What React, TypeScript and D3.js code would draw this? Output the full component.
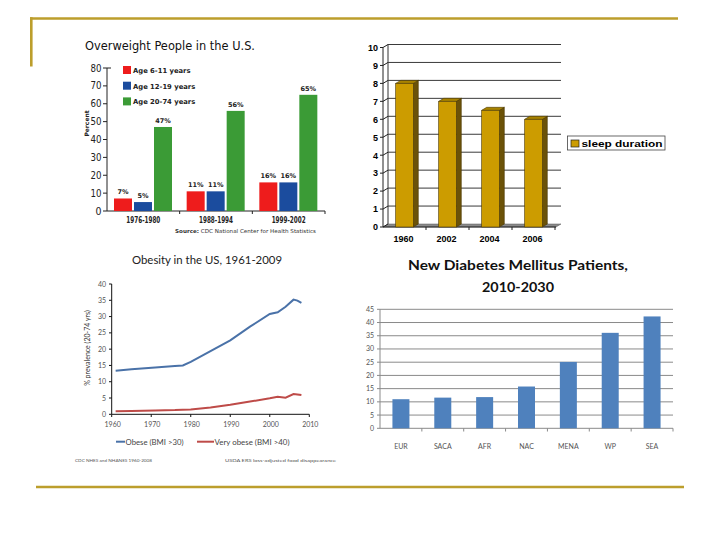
import React from "react";
import * as d3 from "d3";

// ---------- Chart 1: Overweight People in the U.S. ----------
const periods = ["1976-1980", "1988-1994", "1999-2002"];
const ageGroups = ["Age 6-11 years", "Age 12-19 years", "Age 20-74 years"];
const age6to11 = [7, 11, 16];
const age12to19 = [5, 11, 16];
const age20to74 = [47, 56, 65];
const overweightTicks = [0, 10, 20, 30, 40, 50, 60, 70, 80];

// ---------- Chart 2: sleep duration ----------
const sleepYears = ["1960", "2002", "2004", "2006"];
const sleepHours = [8, 7, 6.5, 6];
const sleepTicks = [0, 1, 2, 3, 4, 5, 6, 7, 8, 9, 10];

// ---------- Chart 3: Obesity in the US ----------
const obesityYears = [1961, 1965, 1971, 1976, 1978, 1980, 1985, 1990, 1995, 2000, 2002, 2004, 2006, 2007, 2008];
const obese = [13.4, 13.8, 14.4, 14.8, 15.0, 16.1, 19.4, 22.7, 26.9, 30.8, 31.3, 33.0, 35.2, 34.9, 34.2];
const veryObese = [0.9, 1.0, 1.2, 1.3, 1.4, 1.5, 2.1, 2.9, 3.9, 4.9, 5.4, 5.1, 6.2, 6.1, 5.9];
const obesityYTicks = [0, 5, 10, 15, 20, 25, 30, 35, 40];
const obesityXTicks = [1960, 1970, 1980, 1990, 2000, 2010];

// ---------- Chart 4: New Diabetes Mellitus Patients ----------
const regions = ["EUR", "SACA", "AFR", "NAC", "MENA", "WP", "SEA"];
const newPatients = [11.0, 11.6, 11.8, 15.8, 25.1, 36.1, 42.3];
const diabetesTicks = [0, 5, 10, 15, 20, 25, 30, 35, 40, 45];

const GOLD = "#BC9E2C";

function Overweight() {
  const x0 = d3.scaleBand<string>().domain(periods).range([107, 325]);
  const x1 = d3.scaleBand<string>().domain(ageGroups).range([7, 65]).paddingInner(0.1);
  const y = d3.scaleLinear().domain([0, 80]).range([211, 68]);
  const colors = ["#EE1C1C", "#1B4C9E", "#3B9B36"];
  const series = [age6to11, age12to19, age20to74];
  const font = "'DejaVu Sans', sans-serif";
  return (
    <g fontFamily={font}>
      <text x={85} y={50} fontSize={13} fill="#111" textLength={170} lengthAdjust="spacingAndGlyphs">
        Overweight People in the U.S.
      </text>
      {/* axes */}
      <line x1={107} x2={107} y1={68} y2={211} stroke="#222" strokeWidth={1} />
      <line x1={107} x2={111} y1={68} y2={68} stroke="#222" strokeWidth={1} />
      {overweightTicks.map((t) => (
        <g key={t}>
          <line x1={103} x2={107} y1={y(t)} y2={y(t)} stroke="#222" />
          <text x={101.5} y={y(t) + 3.5} fontSize={10} textAnchor="end" fill="#222" textLength={t === 0 ? 6 : 11} lengthAdjust="spacingAndGlyphs">
            {t}
          </text>
        </g>
      ))}
      <line x1={107} x2={325} y1={211} y2={211} stroke="#222" />
      {periods.map((p) => (
        <line key={p} x1={(x0(p) as number) + x0.bandwidth()} x2={(x0(p) as number) + x0.bandwidth()} y1={211} y2={214} stroke="#222" />
      ))}
      <text transform={`translate(88.5,123.5) rotate(-90)`} fontSize={6} fontWeight="bold" textAnchor="middle" fill="#222">
        Percent
      </text>
      {/* bars */}
      {periods.map((p, i) => (
        <g key={p}>
          {ageGroups.map((a, j) => {
            const v = series[j][i];
            const bx = (x0(p) as number) + (x1(a) as number);
            return (
              <g key={a}>
                <rect x={bx} y={y(v)} width={x1.bandwidth()} height={211 - y(v)} fill={colors[j]} />
                <text x={bx + x1.bandwidth() / 2} y={y(v) - 4} fontSize={6.5} fontWeight="bold" textAnchor="middle" fill="#222">
                  {v}%
                </text>
              </g>
            );
          })}
          <text x={(x0(p) as number) + x0.bandwidth() / 2} y={222.7} fontSize={8} fontWeight="bold" textAnchor="middle" fill="#222" textLength={34} lengthAdjust="spacingAndGlyphs">
            {p}
          </text>
        </g>
      ))}
      {/* legend */}
      {ageGroups.map((a, j) => (
        <g key={a}>
          <rect x={123} y={66 + j * 15.7} width={8} height={8} fill={colors[j]} />
          <text x={133} y={73 + j * 15.7} fontSize={6.8} fontWeight="bold" fill="#222">
            {a}
          </text>
        </g>
      ))}
      <text x={175} y={232.7} fontSize={5.4} fill="#333" textLength={141} lengthAdjust="spacingAndGlyphs">
        <tspan fontWeight="bold">Source:</tspan> CDC National Center for Health Statistics
      </text>
    </g>
  );
}

function Sleep() {
  const x = d3.scaleBand<string>().domain(sleepYears).range([383, 555]);
  const y = d3.scaleLinear().domain([0, 10]).range([227, 47.5]);
  const dx = 5;
  const dy = 3;
  const bw = 17.6;
  const font = "'Liberation Sans', Arial, sans-serif";
  return (
    <g fontFamily={font}>
      {/* back wall */}
      <rect x={383 + dx} y={y(10) - dy} width={561 - 383 - dx} height={y(0) - y(10)} fill="#fff" />
      <line x1={383 + dx} x2={383 + dx} y1={y(10) - dy} y2={y(0) - dy} stroke="#333" />
      {sleepTicks.filter((t) => t > 0).map((t) => (
        <line key={t} x1={383 + dx} x2={561} y1={y(t) - dy} y2={y(t) - dy} stroke="#3a3a3a" strokeWidth={1} />
      ))}
      {/* floor */}
      <polygon points={`383,${y(0)} 556,${y(0)} ${556 + dx},${y(0) - dy} ${383 + dx},${y(0) - dy}`} fill="#8a8a8a" stroke="#555" strokeWidth={0.5} />
      {/* left axis */}
      <line x1={383} x2={383} y1={y(10)} y2={y(0)} stroke="#222" />
      {sleepTicks.map((t) => (
        <g key={t}>
          <line x1={380} x2={383} y1={y(t)} y2={y(t)} stroke="#222" />
          <line x1={383} x2={383 + dx} y1={y(t)} y2={y(t) - dy} stroke="#222" />
          <text x={378} y={y(t) + 3.3} fontSize={9} fontWeight="bold" textAnchor="end" fill="#000">
            {t}
          </text>
        </g>
      ))}
      <line x1={383} x2={556} y1={y(0)} y2={y(0)} stroke="#222" />
      {sleepYears.map((s) => (
        <line key={s} x1={(x(s) as number) + x.bandwidth()} x2={(x(s) as number) + x.bandwidth()} y1={y(0)} y2={y(0) + 3} stroke="#222" />
      ))}
      {/* bars */}
      {sleepYears.map((s, i) => {
        const cx = (x(s) as number) + x.bandwidth() / 2;
        const xa = cx - bw / 2;
        const xb = cx + bw / 2;
        const yt = y(sleepHours[i]);
        const yb = y(0);
        return (
          <g key={s} stroke="#4a3800" strokeWidth={0.6}>
            <polygon points={`${xb},${yt} ${xb + dx},${yt - dy} ${xb + dx},${yb - dy} ${xb},${yb}`} fill="#6B5208" />
            <polygon points={`${xa},${yt} ${xa + dx},${yt - dy} ${xb + dx},${yt - dy} ${xb},${yt}`} fill="#A88300" />
            <rect x={xa} y={yt} width={bw} height={yb - yt} fill="#CC9C00" />
            <text x={cx - 1} y={242} fontSize={9} fontWeight="bold" textAnchor="middle" fill="#000" stroke="none">
              {s}
            </text>
          </g>
        );
      })}
      {/* legend */}
      <rect x={567.5} y={136} width={97.5} height={14} fill="#fff" stroke="#444" strokeWidth={0.8} />
      <rect x={571} y={140} width={8} height={7} fill="#CC9C00" stroke="#222" strokeWidth={0.7} />
      <text x={581.5} y={146.8} fontSize={9.5} fontWeight="bold" fill="#000" textLength={81} lengthAdjust="spacingAndGlyphs">
        sleep duration
      </text>
    </g>
  );
}

function Obesity() {
  const x = d3.scaleLinear().domain([1960, 2010]).range([111.7, 309.3]);
  const y = d3.scaleLinear().domain([0, 40]).range([414.3, 284]);
  const line = d3
    .line<number>()
    .x((_, i) => x(obesityYears[i]))
    .y((d) => y(d));
  const font = "Lato, 'Open Sans', sans-serif";
  return (
    <g fontFamily={font}>
      <text x={207} y={264.3} fontSize={11.5} textAnchor="middle" fill="#222" textLength={150} lengthAdjust="spacingAndGlyphs">
        Obesity in the US, 1961-2009
      </text>
      <line x1={111.7} x2={111.7} y1={284} y2={414.3} stroke="#111" strokeWidth={1} />
      {obesityYTicks.map((t) => (
        <g key={t}>
          <line x1={109} x2={111.7} y1={y(t)} y2={y(t)} stroke="#111" />
          <text x={106} y={y(t) + 2.5} fontSize={7} textAnchor="end" fill="#555">
            {t}
          </text>
        </g>
      ))}
      <line x1={111.7} x2={309.3} y1={414.3} y2={414.3} stroke="#111" strokeWidth={1} />
      {obesityXTicks.map((t) => (
        <g key={t}>
          <line x1={x(t)} x2={x(t)} y1={414.3} y2={417} stroke="#111" />
          <text x={x(t) + 1} y={427} fontSize={7} textAnchor="middle" fill="#555">
            {t}
          </text>
        </g>
      ))}
      <text transform="translate(90,348) rotate(-90)" fontSize={7} textAnchor="middle" fill="#333">
        % prevalence (20-74 yrs)
      </text>
      <path d={line(veryObese) as string} fill="none" stroke="#BE4B48" strokeWidth={2} />
      <path d={line(obese) as string} fill="none" stroke="#4A72A8" strokeWidth={2} />
      {/* legend */}
      <line x1={116} x2={125} y1={441.7} y2={441.7} stroke="#4A72A8" strokeWidth={2} />
      <text x={125.5} y={444.5} fontSize={7.8} fill="#444" textLength={58} lengthAdjust="spacingAndGlyphs">
        Obese (BMI &gt;30)
      </text>
      <line x1={197} x2={214} y1={441.7} y2={441.7} stroke="#BE4B48" strokeWidth={2} />
      <text x={214.5} y={444.5} fontSize={7.8} fill="#444" textLength={75} lengthAdjust="spacingAndGlyphs">
        Very obese (BMI &gt;40)
      </text>
      <text x={75} y={462} fontSize={4.6} fill="#555" textLength={77} lengthAdjust="spacingAndGlyphs">
        CDC NHES and NHANES 1960-2008
      </text>
      <text x={225} y={462} fontSize={4.6} fill="#555" textLength={111} lengthAdjust="spacingAndGlyphs">
        USDA ERS loss-adjusted food disappearance
      </text>
    </g>
  );
}

function Diabetes() {
  const x = d3.scaleBand<string>().domain(regions).range([380, 673]);
  const y = d3.scaleLinear().domain([0, 45]).range([428.3, 309.3]);
  const bw = 17;
  const font = "Lato, 'Open Sans', sans-serif";
  return (
    <g fontFamily={font}>
      <text x={518} y={270} fontSize={14} textAnchor="middle" fill="#111" fontWeight="bold" textLength={220} lengthAdjust="spacingAndGlyphs">
        New Diabetes Mellitus Patients,
      </text>
      <text x={518} y={291.5} fontSize={14} textAnchor="middle" fill="#111" fontWeight="bold" textLength={72} lengthAdjust="spacingAndGlyphs">
        2010-2030
      </text>
      {diabetesTicks.map((t) => (
        <g key={t}>
          {t > 0 && <line x1={380} x2={673} y1={y(t)} y2={y(t)} stroke="#8a8a8a" strokeWidth={1} />}
          <line x1={377} x2={380} y1={y(t)} y2={y(t)} stroke="#8a8a8a" />
          <text x={374} y={y(t) + 2.5} fontSize={7} textAnchor="end" fill="#555">
            {t}
          </text>
        </g>
      ))}
      <line x1={380} x2={380} y1={309.3} y2={428.3} stroke="#8a8a8a" />
      <line x1={380} x2={673} y1={428.3} y2={428.3} stroke="#8a8a8a" />
      {regions.map((r) => (
        <line key={r} x1={(x(r) as number) + x.bandwidth()} x2={(x(r) as number) + x.bandwidth()} y1={428.3} y2={431.5} stroke="#8a8a8a" />
      ))}
      {regions.map((r, i) => {
        const cx = (x(r) as number) + x.bandwidth() / 2;
        return (
          <g key={r}>
            <rect x={cx - bw / 2} y={y(newPatients[i])} width={bw} height={428.3 - y(newPatients[i])} fill="#4F81BD" />
            <text x={cx} y={449} fontSize={7} textAnchor="middle" fill="#555">
              {r}
            </text>
          </g>
        );
      })}
    </g>
  );
}

export default function App() {
  return (
    <svg
      width={720}
      height={540}
      viewBox="0 0 720 540"
      style={{ position: "absolute", left: 0, top: 0, background: "#fff" }}
    >
      <rect x={0} y={0} width={720} height={540} fill="#fff" />
      {/* slide frame */}
      <line x1={30} x2={678} y1={18.5} y2={18.5} stroke={GOLD} strokeWidth={2.6} />
      <line x1={31.3} x2={31.3} y1={17.2} y2={66.5} stroke={GOLD} strokeWidth={2.6} />
      <line x1={36} x2={684} y1={487} y2={487} stroke={GOLD} strokeWidth={2.6} />
      <Overweight />
      <Sleep />
      <Obesity />
      <Diabetes />
    </svg>
  );
}
